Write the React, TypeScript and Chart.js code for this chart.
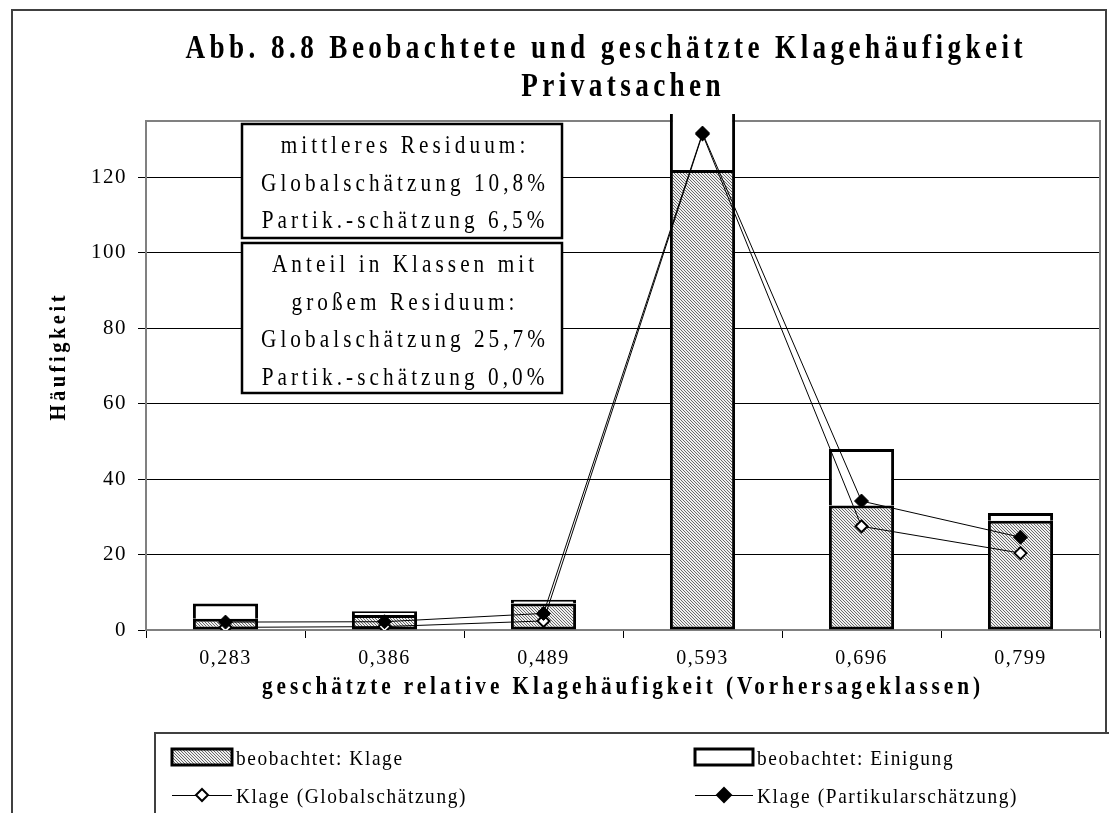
import React, { useEffect, useRef } from 'react';
import { Chart, registerables } from 'chart.js';

Chart.register(...registerables);

const categories = ['0,283', '0,386', '0,489', '0,593', '0,696', '0,799'];
const klage = [3, 4, 7, 122, 33, 29];
const einigung = [4, 1, 1, 40, 15, 2];
const globalEst = [0.7, 0.9, 2.4, 131.5, 27.5, 20.4];
const partikularEst = [2.1, 2.2, 4.4, 131.8, 34.2, 24.6];
const yTicks = [0, 20, 40, 60, 80, 100, 120];
const yMax = 135;

const titleLines = ['Abb. 8.8 Beobachtete und geschätzte Klagehäufigkeit', 'Privatsachen'];
const xTitle = 'geschätzte relative Klagehäufigkeit (Vorhersageklassen)';
const yTitle = 'Häufigkeit';
const box1Lines = ['mittleres Residuum:', 'Globalschätzung 10,8%', 'Partik.-schätzung 6,5%'];
const box2Lines = ['Anteil in Klassen mit', 'großem Residuum:', 'Globalschätzung 25,7%', 'Partik.-schätzung 0,0%'];
const seriesLabels = ['beobachtet: Klage', 'beobachtet: Einigung', 'Klage (Globalschätzung)', 'Klage (Partikularschätzung)'];

const SERIF = "'Liberation Serif', 'DejaVu Serif', serif";

function makeHatch(ctx: CanvasRenderingContext2D) {
  const c = document.createElement('canvas');
  c.width = 3;
  c.height = 3;
  const g = c.getContext('2d')!;
  g.fillStyle = '#f0f0f0';
  g.fillRect(0, 0, 3, 3);
  g.fillStyle = '#6a6a6a';
  for (let i = 0; i < 3; i++) g.fillRect(i, i, 1, 1);
  return ctx.createPattern(c, 'repeat')!;
}

function fontOf(size: number, bold: boolean) {
  return `${bold ? 'bold ' : ''}${size}px ${SERIF}`;
}

// spacing (in unscaled font units) so that the condensed text spans `target` px
function fitSpacing(ctx: CanvasRenderingContext2D, s: string, size: number, bold: boolean, sx: number, target: number) {
  ctx.save();
  ctx.font = fontOf(size, bold);
  (ctx as any).letterSpacing = '0px';
  const nat = ctx.measureText(s).width;
  ctx.restore();
  const n = Array.from(s).length;
  return (target / sx - nat) / Math.max(1, n - 1);
}

function drawText(
  ctx: CanvasRenderingContext2D,
  s: string,
  x: number,
  y: number,
  size: number,
  bold: boolean,
  sx: number,
  spacing: number,
  align: 'center' | 'left' = 'center'
) {
  ctx.save();
  ctx.font = fontOf(size, bold);
  (ctx as any).letterSpacing = '0px';
  const nat = ctx.measureText(s).width;
  const n = Array.from(s).length;
  const w = (nat + spacing * (n - 1)) * sx;
  (ctx as any).letterSpacing = spacing + 'px';
  ctx.textAlign = 'left';
  ctx.textBaseline = 'alphabetic';
  ctx.fillStyle = '#000';
  ctx.translate(align === 'center' ? x - w / 2 : x, y);
  ctx.scale(sx, 1);
  ctx.fillText(s, 0, 0);
  ctx.restore();
}

function diamond(ctx: CanvasRenderingContext2D, x: number, y: number, r: number, fill: string) {
  ctx.save();
  ctx.beginPath();
  ctx.moveTo(x, y - r);
  ctx.lineTo(x + r, y);
  ctx.lineTo(x, y + r);
  ctx.lineTo(x - r, y);
  ctx.closePath();
  ctx.fillStyle = fill;
  ctx.fill();
  ctx.lineWidth = 2;
  ctx.strokeStyle = '#000';
  ctx.stroke();
  ctx.restore();
}

export default function App() {
  const ref = useRef<HTMLCanvasElement>(null);

  useEffect(() => {
    const canvas = ref.current!;
    const ctx0 = canvas.getContext('2d')!;
    const hatch = makeHatch(ctx0);

    const decor = {
      id: 'decor',
      beforeDraw(chart: any) {
        const ctx = chart.ctx as CanvasRenderingContext2D;
        ctx.save();
        ctx.fillStyle = '#fff';
        ctx.fillRect(0, 0, chart.width, chart.height);
        ctx.restore();
        (ctx as any).letterSpacing = '1.5px';
      },
      beforeDatasetsDraw(chart: any) {
        const ctx = chart.ctx as CanvasRenderingContext2D;
        const a = chart.chartArea;
        ctx.save();
        ctx.strokeStyle = '#808080';
        ctx.lineWidth = 2;
        ctx.strokeRect(a.left, a.top, a.right - a.left, a.bottom - a.top);
        ctx.restore();
      },
      afterDraw(chart: any) {
        const ctx = chart.ctx as CanvasRenderingContext2D;
        (ctx as any).letterSpacing = '0px';
        // outer border
        ctx.save();
        ctx.strokeStyle = '#404040';
        ctx.lineWidth = 2;
        ctx.beginPath();
        ctx.moveTo(12, 830);
        ctx.lineTo(12, 10);
        ctx.lineTo(1106, 10);
        ctx.lineTo(1106, 830);
        ctx.stroke();
        ctx.restore();

        // title
        const tSx = 0.8;
        const tSp = fitSpacing(ctx, titleLines[0], 34, true, tSx, 837);
        drawText(ctx, titleLines[0], 604, 58, 34, true, tSx, tSp);
        drawText(ctx, titleLines[1], 621, 96, 34, true, tSx, tSp);

        // axis titles
        const xSx = 0.85;
        drawText(ctx, xTitle, 621, 694, 25, true, xSx, fitSpacing(ctx, xTitle, 25, true, xSx, 718));
        ctx.save();
        ctx.translate(57, 358);
        ctx.rotate(-Math.PI / 2);
        drawText(ctx, yTitle, 0, 8, 24, true, xSx, fitSpacing(ctx, yTitle, 24, true, xSx, 125));
        ctx.restore();

        // annotation boxes
        const bSx = 0.85;
        const bSp = fitSpacing(ctx, box1Lines[1], 25, false, bSx, 284);
        const boxes = [
          { x: 242, y: 124, w: 320, h: 114, lines: box1Lines, base: 153 },
          { x: 242, y: 243, w: 320, h: 150, lines: box2Lines, base: 272 },
        ];
        for (const b of boxes) {
          ctx.save();
          ctx.fillStyle = '#fff';
          ctx.fillRect(b.x, b.y, b.w, b.h);
          ctx.strokeStyle = '#000';
          ctx.lineWidth = 2.5;
          ctx.strokeRect(b.x, b.y, b.w, b.h);
          ctx.restore();
          b.lines.forEach((l, i) => drawText(ctx, l, b.x + b.w / 2 + 1, b.base + i * 37.5, 25, false, bSx, bSp));
        }

        // legend box
        ctx.save();
        ctx.fillStyle = '#fff';
        ctx.fillRect(155, 733, 1000, 100);
        ctx.strokeStyle = '#404040';
        ctx.lineWidth = 2;
        ctx.strokeRect(155, 733, 1000, 100);
        ctx.restore();

        const cols = [172, 695];
        const rows = [757, 795];
        ctx.save();
        ctx.fillStyle = hatch;
        ctx.fillRect(cols[0], rows[0] - 8, 60, 16);
        ctx.strokeStyle = '#000';
        ctx.lineWidth = 3;
        ctx.strokeRect(cols[0], rows[0] - 8, 60, 16);
        ctx.fillStyle = '#fff';
        ctx.fillRect(cols[1], rows[0] - 8, 58, 16);
        ctx.strokeRect(cols[1], rows[0] - 8, 58, 16);
        ctx.lineWidth = 1;
        ctx.beginPath();
        ctx.moveTo(cols[0], rows[1] + 0.5);
        ctx.lineTo(cols[0] + 60, rows[1] + 0.5);
        ctx.moveTo(cols[1], rows[1] + 0.5);
        ctx.lineTo(cols[1] + 58, rows[1] + 0.5);
        ctx.stroke();
        ctx.restore();
        diamond(ctx, cols[0] + 30, rows[1], 6, '#fff');
        diamond(ctx, cols[1] + 29, rows[1], 7, '#000');

        const lSx = 0.88;
        const lSp = fitSpacing(ctx, seriesLabels[0], 22, false, lSx, 166);
        drawText(ctx, seriesLabels[0], 236, rows[0] + 8, 22, false, lSx, lSp, 'left');
        drawText(ctx, seriesLabels[1], 757, rows[0] + 8, 22, false, lSx, lSp, 'left');
        drawText(ctx, seriesLabels[2], 236, rows[1] + 8, 22, false, lSx, lSp, 'left');
        drawText(ctx, seriesLabels[3], 757, rows[1] + 8, 22, false, lSx, lSp, 'left');
      },
    };

    const chart = new Chart(canvas, {
      type: 'bar',
      data: {
        labels: categories,
        datasets: [
          {
            type: 'bar',
            label: seriesLabels[0],
            data: klage,
            backgroundColor: hatch as any,
            borderColor: '#000',
            borderWidth: 3,
            borderSkipped: false,
            stack: 'obs',
            order: 2,
            clip: { left: 0, top: 7, right: 0, bottom: 0 } as any,
          },
          {
            type: 'bar',
            label: seriesLabels[1],
            data: einigung,
            backgroundColor: '#fff',
            borderColor: '#000',
            borderWidth: 3,
            borderSkipped: 'bottom',
            stack: 'obs',
            order: 2,
            clip: { left: 0, top: 7, right: 0, bottom: 0 } as any,
          },
          {
            type: 'line',
            label: seriesLabels[2],
            data: globalEst,
            borderColor: '#000',
            borderWidth: 1,
            pointStyle: 'rectRot',
            pointRadius: 6,
            pointBackgroundColor: '#fff',
            pointBorderColor: '#000',
            pointBorderWidth: 2,
            stack: 'g',
            order: 1,
            tension: 0,
          } as any,
          {
            type: 'line',
            label: seriesLabels[3],
            data: partikularEst,
            borderColor: '#000',
            borderWidth: 1,
            pointStyle: 'rectRot',
            pointRadius: 7,
            pointBackgroundColor: '#000',
            pointBorderColor: '#000',
            pointBorderWidth: 1,
            stack: 'p',
            order: 0,
            tension: 0,
          } as any,
        ],
      },
      options: {
        responsive: false,
        animation: false,
        devicePixelRatio: 1,
        layout: { padding: { left: 0, top: 121, right: 9, bottom: 0 } },
        plugins: {
          legend: { display: false },
          title: { display: false },
          tooltip: { enabled: false },
        },
        datasets: { bar: { categoryPercentage: 1, barPercentage: 0.41 } } as any,
        scales: {
          x: {
            stacked: true,
            grid: { offset: true, drawOnChartArea: false, drawTicks: true, tickLength: 8, color: '#000', lineWidth: 1 },
            border: { display: false },
            ticks: { font: { family: SERIF, size: 20 }, color: '#000', padding: 9, maxRotation: 0, autoSkip: false },
            afterFit(s: any) {
              s.height = 183;
            },
          },
          y: {
            stacked: true,
            min: 0,
            max: yMax,
            grid: { color: '#000', lineWidth: 1, tickLength: 8, drawTicks: true },
            border: { display: false },
            ticks: { font: { family: SERIF, size: 21 }, color: '#000', padding: 11 },
            afterFit(s: any) {
              s.width = 146;
            },
            afterBuildTicks(s: any) {
              s.ticks = yTicks.map((v) => ({ value: v }));
            },
          },
        },
      },
      plugins: [decor],
    });

    return () => chart.destroy();
  }, []);

  return (
    <div style={{ position: 'fixed', left: 0, top: 0, width: 1109, height: 813, background: '#fff' }}>
      <canvas ref={ref} width={1109} height={813} style={{ display: 'block' }} />
    </div>
  );
}
